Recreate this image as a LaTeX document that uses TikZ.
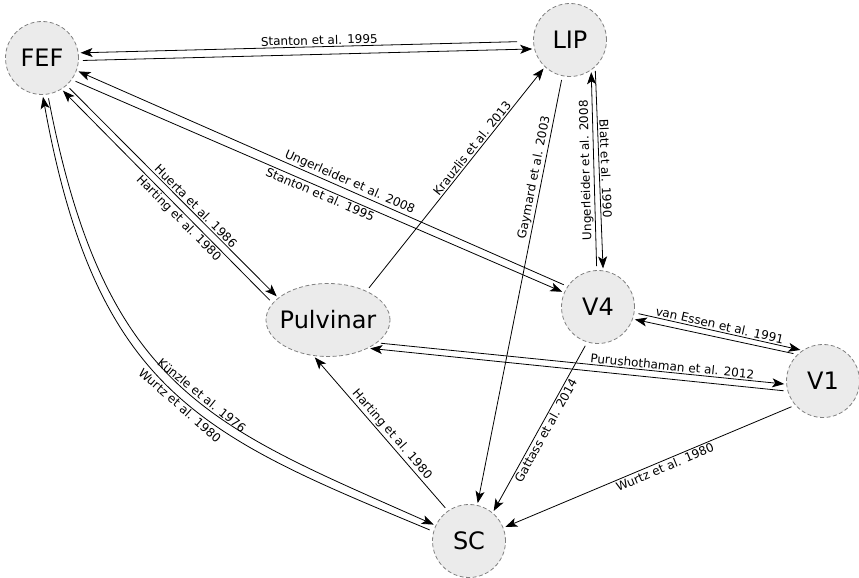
\documentclass[tikz,border=0pt]{standalone}
\usepackage{fontspec}
\setmainfont{DejaVu Sans}
\usetikzlibrary{arrows.meta,shapes.geometric}

\begin{document}
\begin{tikzpicture}[x=1pt,y=1pt,
    region/.style={draw=black!50, dash pattern=on 4pt off 2.5pt, line width=0.8pt,
      fill=black!8, inner sep=0pt, font=\fontsize{24}{28}\selectfont},
    link/.style={-{Stealth[length=12pt,width=9pt,inset=3pt]}, line width=0.8pt,
      shorten <=4pt, shorten >=2pt},
    cite/.style={sloped, inner sep=1.5pt, font=\fontsize{12}{14}\selectfont}]

  \useasboundingbox (0,0) rectangle (859,578);

  % areas
  \node[region, circle, minimum size=73pt]  (FEF)  at (42,520)  {FEF};
  \node[region, circle, minimum size=73pt]  (LIP)  at (570,538) {LIP};
  \node[region, circle, minimum size=73pt]  (V4)   at (598,271) {V4};
  \node[region, circle, minimum size=73pt]  (V1)   at (823,197) {V1};
  \node[region, circle, minimum size=73pt]  (SC)   at (469,37)  {SC};
  \node[region, ellipse, inner xsep=-5pt, minimum width=124pt, minimum height=73pt]
    (Pulv) at (328,258) {Pulvinar};

  % FEF <-> LIP
  \draw[link, shorten <=16pt] (LIP.182) -- node[cite, pos=0.47, above] {Stanton et al. 1995} (FEF.8);
  \draw[link] (FEF.-4) -- (LIP.194);

  % FEF <-> V4
  \draw[link] (V4.146) -- node[cite, pos=0.45, above] {Ungerleider et al. 2008} (FEF.-20);
  \draw[link] (FEF.-36) -- node[cite, pos=0.51, below] {Stanton et al. 1995} (V4.157);

  % FEF <-> Pulvinar
  \draw[link] (FEF.-48) -- node[cite, pos=0.59, above] {Huerta et al. 1986} (Pulv.156);
  \draw[link] (Pulv.163) -- node[cite, pos=0.42, below] {Harting et al. 1980} (FEF.-58);

  % FEF <-> SC
  \draw[link] (FEF.-81) .. controls +(57,-297) and +(-225,100) ..
    node[cite, pos=0.55, above] {Künzle et al. 1976} (SC.155);
  \draw[link] (SC.165) .. controls +(-228,95) and +(54,-300) ..
    node[cite, pos=0.47, below] {Wurtz et al. 1980} (FEF.-89);

  % Pulvinar, LIP, V4
  \draw[link] (Pulv.37) -- node[cite, pos=0.62, above] {Krauzlis et al. 2013} (LIP.227);
  \draw[link] (LIP.258) -- node[cite, pos=0.24, above] {Gaymard et al. 2003} (SC.77);
  \draw[link] (LIP.-47) -- node[cite, midway, above] {Blatt et al. 1990} (V4.82);
  \draw[link] (V4.92) -- node[cite, midway, above, allow upside down] {Ungerleider et al. 2008} (LIP.-55);

  % towards SC
  \draw[link] (V4.253) -- node[cite, midway, below] {Gattass et al. 2014} (SC.50);
  \draw[link] (V1.221) -- node[cite, pos=0.455, below] {Wurtz et al. 1980} (SC.21);
  \draw[link] (SC.125) -- node[cite, pos=0.46, above] {Harting et al. 1980} (Pulv.248);

  % V1
  \draw[link] (V4.-9) -- node[cite, midway, above] {van Essen et al. 1991} (V1.124);
  \draw[link] (V1.134) -- (V4.-19);
  \draw[link] (Pulv.-25) -- node[cite, pos=0.72, above] {Purushothaman et al. 2012} (V1.185);
  \draw[link] (V1.196) -- (Pulv.-35);
\end{tikzpicture}
\end{document}
